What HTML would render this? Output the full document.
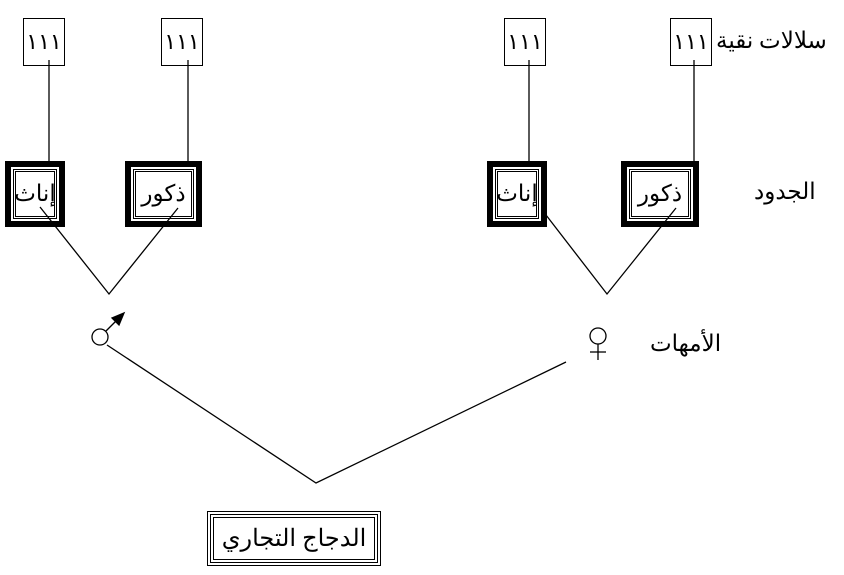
<!DOCTYPE html>
<html><head><meta charset="utf-8"><style>
body{margin:0;background:#fff;width:844px;height:575px;overflow:hidden;position:relative;font-family:"Liberation Serif","Noto Serif CJK SC",serif}
.t{position:absolute;box-sizing:border-box;border:1px solid #000;background:#fff;display:flex;align-items:center;justify-content:center;font-size:22px}
.g{position:absolute;box-sizing:border-box;border:6px solid #000;background:#fff;padding:2px}
.g div{width:100%;height:100%;box-sizing:border-box;border:3px double #000;display:flex;align-items:center;justify-content:center;font-size:23px;direction:rtl}
.l{position:absolute;font-size:23px;direction:rtl;white-space:nowrap}
</style></head><body>
<div class="t" style="left:23px;top:18px;width:42px;height:48px">١١١</div>
<div class="t" style="left:161px;top:18px;width:42px;height:48px">١١١</div>
<div class="t" style="left:504px;top:18px;width:42px;height:48px">١١١</div>
<div class="t" style="left:670px;top:18px;width:42px;height:48px">١١١</div>
<div class="l" style="left:716px;top:28px">سلالات نقية</div>
<div class="g" style="left:5px;top:161px;width:60px;height:66px"><div>إناث</div></div>
<div class="g" style="left:125px;top:161px;width:77px;height:66px"><div>ذكور</div></div>
<div class="g" style="left:487px;top:161px;width:60px;height:66px"><div>إناث</div></div>
<div class="g" style="left:621px;top:161px;width:78px;height:66px"><div>ذكور</div></div>
<div class="l" style="left:754px;top:179px">الجدود</div>
<div class="l" style="left:650px;top:331px">الأمهات</div>
<div style="position:absolute;left:207px;top:511px;width:174px;height:55px;box-sizing:border-box;border:4px double #000;padding:2px"><div style="width:100%;height:100%;box-sizing:border-box;border:1px solid #000;display:flex;align-items:center;justify-content:center;font-size:24px;direction:rtl">الدجاج التجاري</div></div>
<svg width="844" height="575" style="position:absolute;left:0;top:0" stroke="#000" stroke-width="1.3" fill="none">
<line x1="49" y1="60" x2="49" y2="161"/><line x1="188" y1="60" x2="188" y2="161"/>
<line x1="529" y1="60" x2="529" y2="161"/><line x1="694" y1="60" x2="694" y2="161"/>
<polyline points="40,207 109,294 178,208"/>
<polyline points="546,215 607,294 676,208"/>
<polyline points="107,345 316,483 566,362"/>
<circle cx="100" cy="337" r="8"/>
<line x1="106" y1="331" x2="118" y2="319"/>
<polygon points="124,313 112,318 119,325" fill="#000"/>
<circle cx="598" cy="336" r="8"/>
<line x1="598" y1="344" x2="598" y2="360"/><line x1="590" y1="352" x2="606" y2="352"/>
</svg>
</body></html>
